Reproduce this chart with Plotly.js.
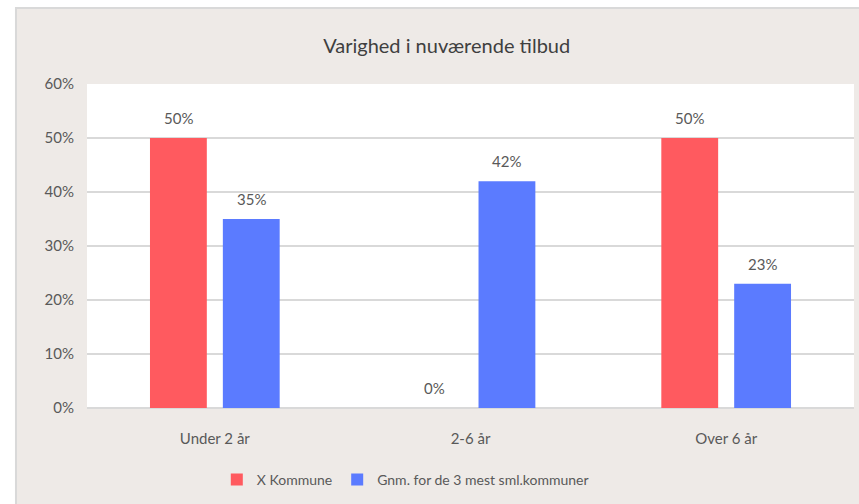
<!DOCTYPE html>
<html>
<head>
<meta charset="utf-8">
<script src="https://cdn.plot.ly/plotly-3.0.1.min.js"></script>
<style>html,body{margin:0;padding:0;background:#fff;}#chart{width:859px;height:504px;}</style>
</head>
<body>
<div id="chart"></div>
<script>
const categories = ["Under 2 år", "2-6 år", "Over 6 år"];
const seriesNames = ["X Kommune", "Gnm. for de 3 mest sml.kommuner"];
const xKommune = [50, 0, 50];
const gnmKommuner = [35, 42, 23];
const yTicks = [0, 10, 20, 30, 40, 50, 60];

const textColor = "#595959";
const font = "Lato, 'Open Sans', sans-serif";
const colors = ["#FF5A5F", "#5B7BFF"];

const bargap = 0.43;
const plotWidth = 859 - 87 - 5;
const catWidth = plotWidth / categories.length;
const slot = catWidth * (1 - bargap) / 2;

const traces = [xKommune, gnmKommuner].map((vals, i) => ({
  type: "bar", name: seriesNames[i], x: categories, y: vals,
  marker: {color: colors[i]}, hoverinfo: "skip"
}));

const annotations = [];
[xKommune, gnmKommuner].forEach((vals, i) => {
  vals.forEach((v, j) => {
    annotations.push({
      x: categories[j], y: v, xref: "x", yref: "y",
      text: v + "%", showarrow: false, yanchor: "bottom",
      xshift: (i - 0.5) * slot, yshift: 9,
      font: {size: 15, color: textColor, family: font}
    });
  });
});

const layout = {
  width: 859, height: 504,
  margin: {l: 87, r: 5, t: 84, b: 96},
  paper_bgcolor: "#ffffff",
  plot_bgcolor: "#ffffff",
  font: {family: font, color: textColor, size: 15},
  title: {text: "Varighed i nuværende tilbud", font: {size: 20, color: "#3f3f3f", family: font},
          x: 0.52, xref: "container", y: 0.909, yref: "container", yanchor: "middle"},
  barmode: "group", bargap: bargap, bargroupgap: 0.22,
  showlegend: true,
  legend: {orientation: "h", x: 0.415, xref: "paper", xanchor: "center", y: -0.222, yanchor: "middle",
           bgcolor: "rgba(0,0,0,0)",
           font: {size: 14, color: textColor, family: font}, itemwidth: 30, traceorder: "normal"},
  xaxis: {type: "category", showgrid: false, showline: false, zeroline: false, ticks: "",
          ticklabelstandoff: 20, tickfont: {size: 15, color: textColor}, fixedrange: true},
  yaxis: {range: [0, 60], tickvals: yTicks, ticktext: yTicks.map(v => v + "%"),
          showgrid: true, gridcolor: "#D9D9D9", gridwidth: 1.5, zeroline: true, zerolinecolor: "#D9D9D9",
          zerolinewidth: 2, showline: false, ticks: "", ticklabelstandoff: 12,
          tickfont: {size: 15, color: textColor}, fixedrange: true},
  annotations: annotations,
  shapes: [
    {type: "rect", xref: "paper", yref: "paper", layer: "below",
     x0: -0.0926, x1: 1.05, y0: -0.35, y1: 1.2346,
     fillcolor: "#EEEAE7", line: {color: "#D9D9D9", width: 2}},
    {type: "rect", xref: "paper", yref: "paper", layer: "below",
     x0: 0, x1: 1, y0: 0, y1: 1, fillcolor: "#ffffff", line: {width: 0}}
  ]
};

Plotly.newPlot("chart", traces, layout, {displayModeBar: false, staticPlot: true});
</script>
</body>
</html>
